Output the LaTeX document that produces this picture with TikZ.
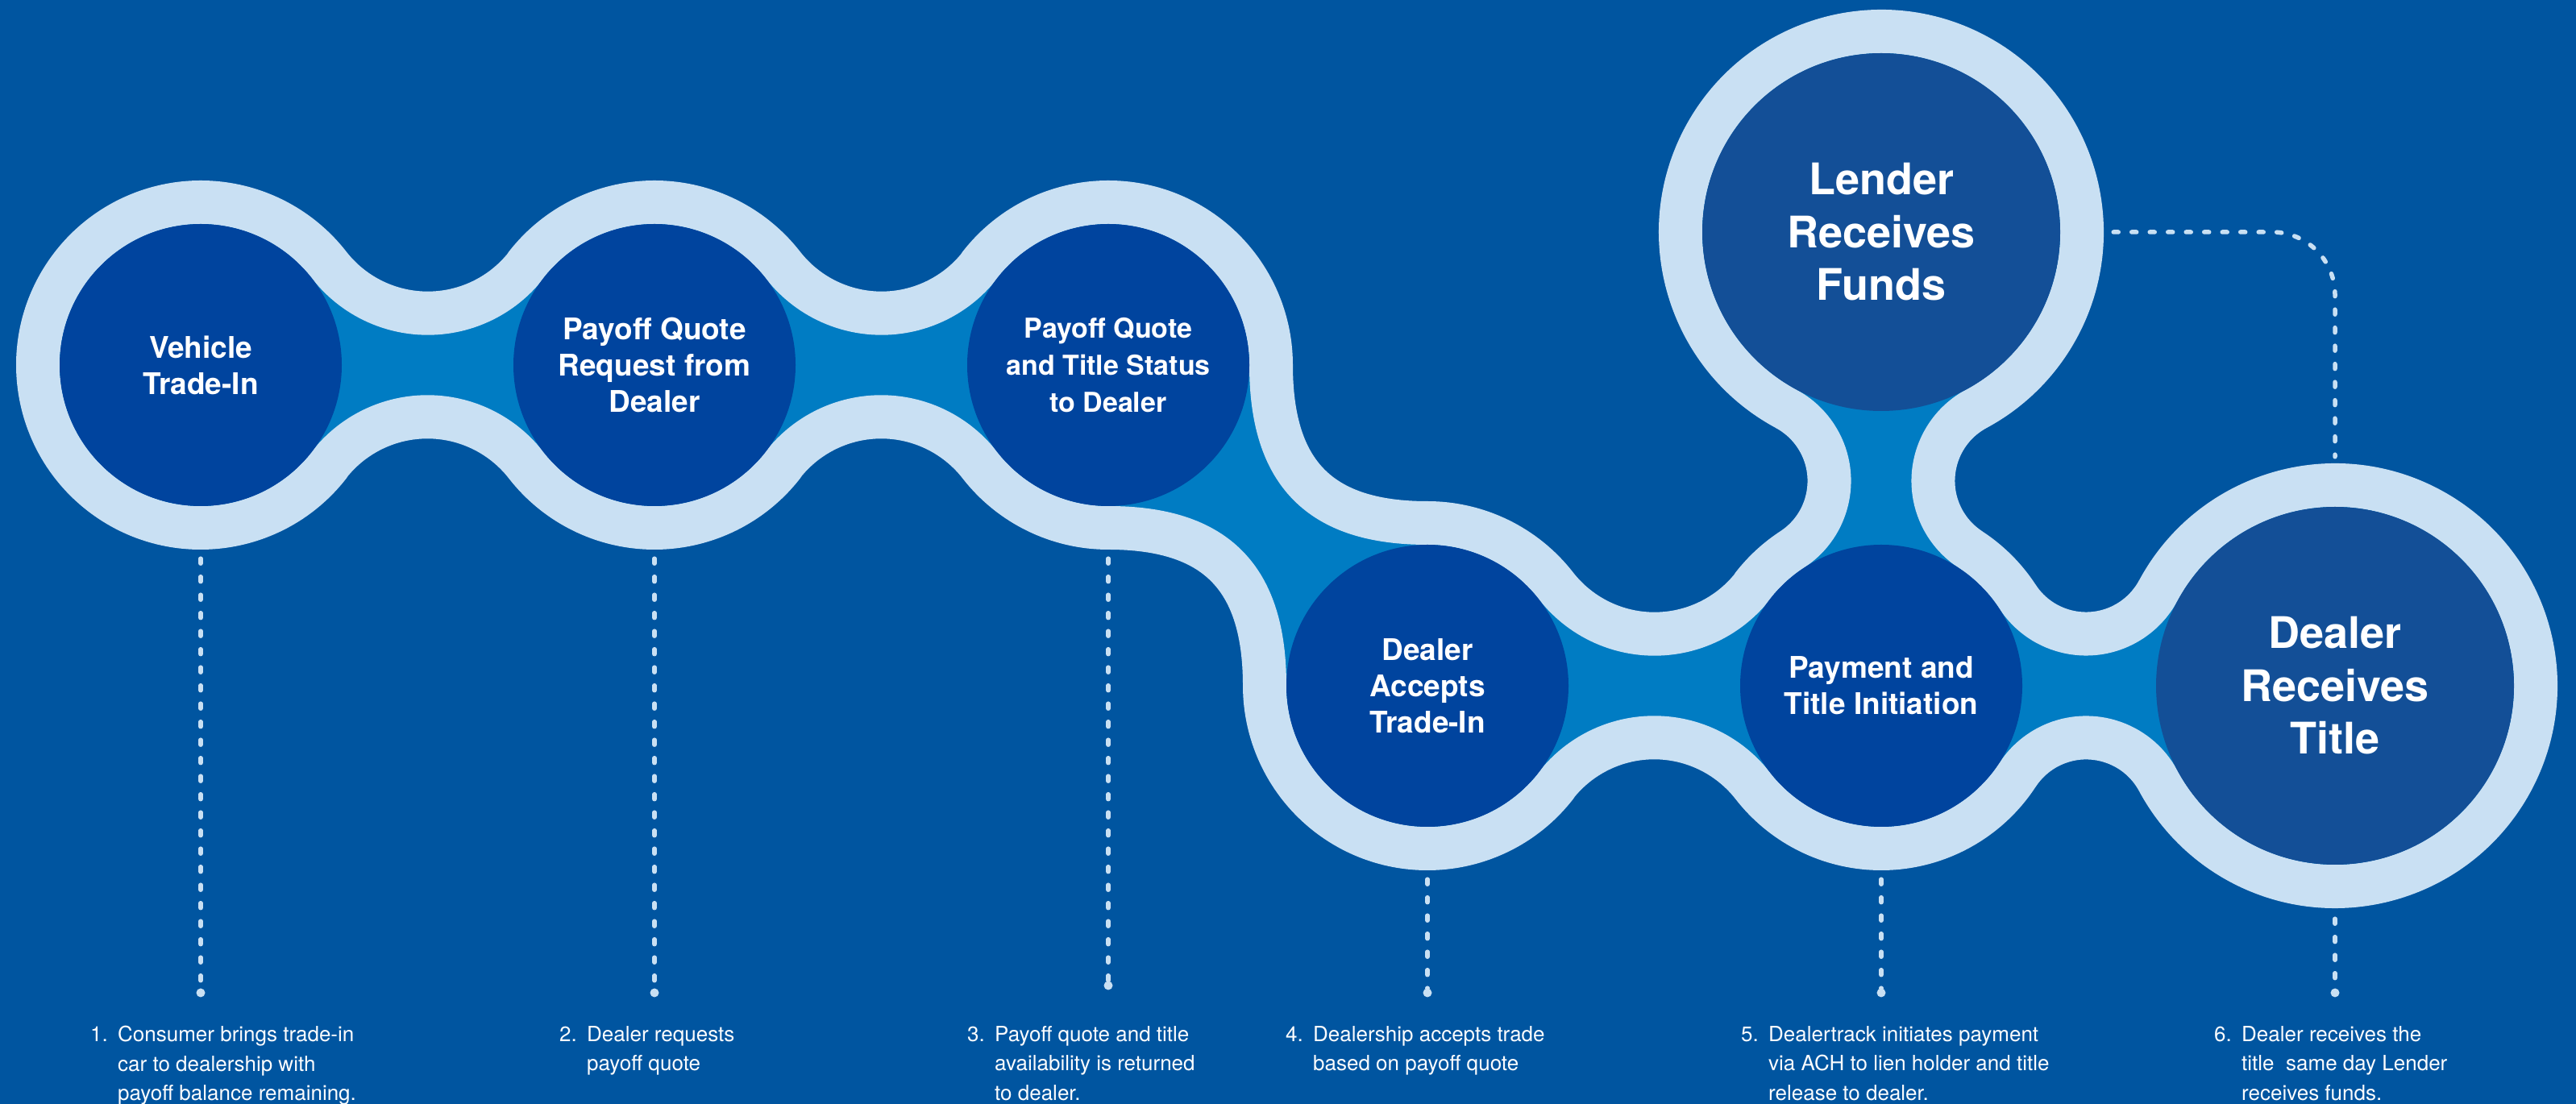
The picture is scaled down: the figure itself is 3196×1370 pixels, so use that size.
\documentclass[tikz,border=0pt]{standalone}
\usepackage{fontspec}
\setmainfont{TeX Gyre Heros}
\usepackage{xcolor}
\usetikzlibrary{positioning,calc,backgrounds}

\definecolor{bgblue}{HTML}{0055A0}
\definecolor{bandblue}{HTML}{C9E0F3}
\definecolor{channelblue}{HTML}{007CC3}
\definecolor{stepblue}{HTML}{00449E}
\definecolor{bigblue}{HTML}{134F97}

\newcommand{\numbox}[1]{\makebox[34pt][l]{#1}}

\tikzset{
	stepnode/.style={circle, fill=stepblue, minimum size=350pt, inner sep=0pt, text=white, align=center, font=\fontsize{37}{45}\selectfont\bfseries},
	bignode/.style={stepnode, fill=bigblue, minimum size=444pt, font=\fontsize{54}{65.5}\selectfont\bfseries},
	band/.style={fill=channelblue, draw=bandblue, line width=54pt, line join=round},
	lead/.style={draw=bandblue, line width=5.5pt, line cap=round, dash pattern=on 6pt off 16.5pt},
	leaddot/.style={circle, fill=bandblue, inner sep=0pt, minimum size=11pt},
	note/.style={anchor=north west, align=left, inner sep=0pt, text=white!92!bandblue, font=\fontsize{26}{36.5}\selectfont}
}

\begin{document}
\begin{tikzpicture}[x=1pt, y=1pt, node distance=563pt, on grid]
	\useasboundingbox (0,0) rectangle (3196,1370);
	\node[stepnode] (c1) at (249,917) {Vehicle\\Trade-In};
	\node[stepnode, right=of c1] (c2) {Payoff Quote\\Request from\\Dealer};
	\node[stepnode, right=of c2, font=\fontsize{34}{46}\selectfont\bfseries] (c3) {Payoff Quote\\and Title Status\\to Dealer};
	\node[stepnode, below right=398pt and 396pt of c3] (c4) {Dealer\\Accepts\\Trade-In};
	\node[stepnode, right=of c4] (c5) {Payment and\\Title Initiation};
	\node[bignode, right=of c5] (c6) {Dealer\\Receives\\Title};
	\node[bignode, above=of c5] (c7) {Lender\\Receives\\Funds};

	\begin{scope}[on background layer]
		\fill[bgblue] (0,0) rectangle (3196,1370);
		\path[band] ($(c1.center)+(37.9:202pt)$)
			arc[start angle=217.9, end angle=322.1, radius=155pt]
			-- ($(c2.center)+(142.1:202pt)$) arc[start angle=142.1, end angle=37.9, radius=202pt]
			arc[start angle=217.9, end angle=322.1, radius=155pt]
			-- ($(c3.center)+(142.1:202pt)$) arc[start angle=142.1, end angle=0, radius=202pt]
			.. controls +(0,-134) and +(-134,0) .. ($(c4.center)+(90:202pt)$)
			arc[start angle=90, end angle=37.9, radius=202pt]
			arc[start angle=217.9, end angle=322.1, radius=155pt]
			-- ($(c5.center)+(142.1:202pt)$) arc[start angle=142.1, end angle=123.16, radius=202pt]
			arc[start angle=-56.84, end angle=61.73, radius=101.6pt]
			-- ($(c7.center)+(241.73:249pt)$) arc[start angle=241.73, end angle=-61.73, radius=249pt]
			arc[start angle=118.27, end angle=236.84, radius=101.6pt]
			-- ($(c5.center)+(56.84:202pt)$) arc[start angle=56.84, end angle=33.16, radius=202pt]
			arc[start angle=213.16, end angle=331.73, radius=101.6pt]
			-- ($(c6.center)+(151.73:249pt)$) arc[start angle=151.73, end angle=-151.73, radius=249pt]
			arc[start angle=28.27, end angle=146.84, radius=101.6pt]
			-- ($(c5.center)+(-33.16:202pt)$) arc[start angle=-33.16, end angle=-142.1, radius=202pt]
			arc[start angle=37.9, end angle=142.1, radius=155pt]
			-- ($(c4.center)+(-37.9:202pt)$) arc[start angle=-37.9, end angle=-180, radius=202pt]
			.. controls +(0,134) and +(134,0) .. ($(c3.center)+(-90:202pt)$)
			arc[start angle=-90, end angle=-142.1, radius=202pt]
			arc[start angle=37.9, end angle=142.1, radius=155pt]
			-- ($(c2.center)+(-37.9:202pt)$) arc[start angle=-37.9, end angle=-142.1, radius=202pt]
			arc[start angle=37.9, end angle=142.1, radius=155pt]
			-- ($(c1.center)+(-37.9:202pt)$) arc[start angle=-37.9, end angle=-322.1, radius=202pt]
			-- cycle;
	\end{scope}

	\node[leaddot] (d1) at (c1 |- 0,138) {};
	\node[leaddot] (d2) at (c2 |- 0,138) {};
	\node[leaddot] (d3) at (c3 |- 0,147) {};
	\node[leaddot] (d4) at (c4 |- 0,138) {};
	\node[leaddot] (d5) at (c5 |- 0,138) {};
	\node[leaddot] (d6) at (c6 |- 0,138) {};

	\draw[lead] ([yshift=-65pt]c1.south) -- (d1);
	\draw[lead] ([yshift=-65pt]c2.south) -- (d2);
	\draw[lead] ([yshift=-65pt]c3.south) -- (d3);
	\draw[lead] ([yshift=-65pt]c4.south) -- (d4);
	\draw[lead] ([yshift=-65pt]c5.south) -- (d5);
	\draw[lead] ([yshift=-67pt]c6.south) -- (d6);
	\draw[lead, rounded corners=78pt] ([xshift=66pt]c7.east) -| ([yshift=62pt]c6.north);

	\node[note] (n1) at (112,97) {\numbox{1.}Consumer brings trade-in\\\numbox{}car to dealership with\\\numbox{}payoff balance remaining.};
	\node[note] (n2) at (694,97) {\numbox{2.}Dealer requests\\\numbox{}payoff quote};
	\node[note] (n3) at (1200,97) {\numbox{3.}Payoff quote and title\\\numbox{}availability is returned\\\numbox{}to dealer.};
	\node[note] (n4) at (1595,97) {\numbox{4.}Dealership accepts trade\\\numbox{}based on payoff quote};
	\node[note] (n5) at (2160,97) {\numbox{5.}Dealertrack initiates payment\\\numbox{}via ACH to lien holder and title\\\numbox{}release to dealer.};
	\node[note] (n6) at (2747,97) {\numbox{6.}Dealer receives the\\\numbox{}title\ \ same day Lender\\\numbox{}receives funds.};
\end{tikzpicture}
\end{document}
